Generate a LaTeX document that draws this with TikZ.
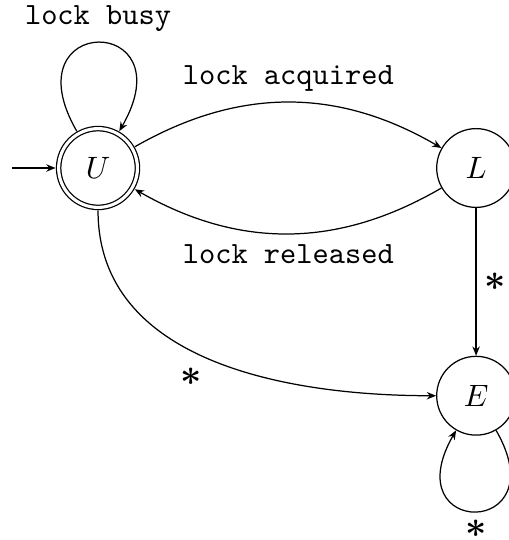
\documentclass[tikz,border=0pt]{standalone}
\usepackage{amsmath, amssymb}
\usetikzlibrary{arrows.meta, positioning, calc}

\begin{document}
\begin{tikzpicture}[
    state/.style={circle, draw, minimum size=25.5pt, inner sep=0pt},
    accepting/.style={double, double distance=1pt, outer sep=1pt},
    trans/.style={-{Stealth[length=3pt, width=2.4pt]}},
    lbl/.style={font=\ttfamily},
    sym/.style={font=\large, inner sep=2.5pt}
  ]
  \useasboundingbox (-1.115, 1.911) rectangle (4.663, -4.231);
  % States
  \node[state, accepting] (U) at (0, 0) {$U$};
  \node[state] (L) at (4.3, 0) {$L$};
  \node[state] (E) at (4.3, -2.59) {$E$};
  \coordinate (init) at (-0.98, 0);
  % Initial arrow
  \draw[trans] (init) -- (U);
  % Transitions
  \draw[trans] (U) to[out=120, in=60, distance=1.55cm] node[above, lbl] {lock busy} (U);
  \draw[trans] (U) to[bend left] node[above, lbl] {lock acquired} (L);
  \draw[trans] (L) to[bend left] node[below, lbl] {lock released} (U);
  \draw[trans] (L) -- node[right, sym] {$\boldsymbol{*}$} (E);
  \draw[trans] (U) to[out=-90, in=180] node[below left, sym] {$\boldsymbol{*}$} (E);
  \draw[trans] (E) to[out=-60, in=-120, distance=1.42cm] node[below, sym] {$\boldsymbol{*}$} (E);
\end{tikzpicture}
\end{document}
